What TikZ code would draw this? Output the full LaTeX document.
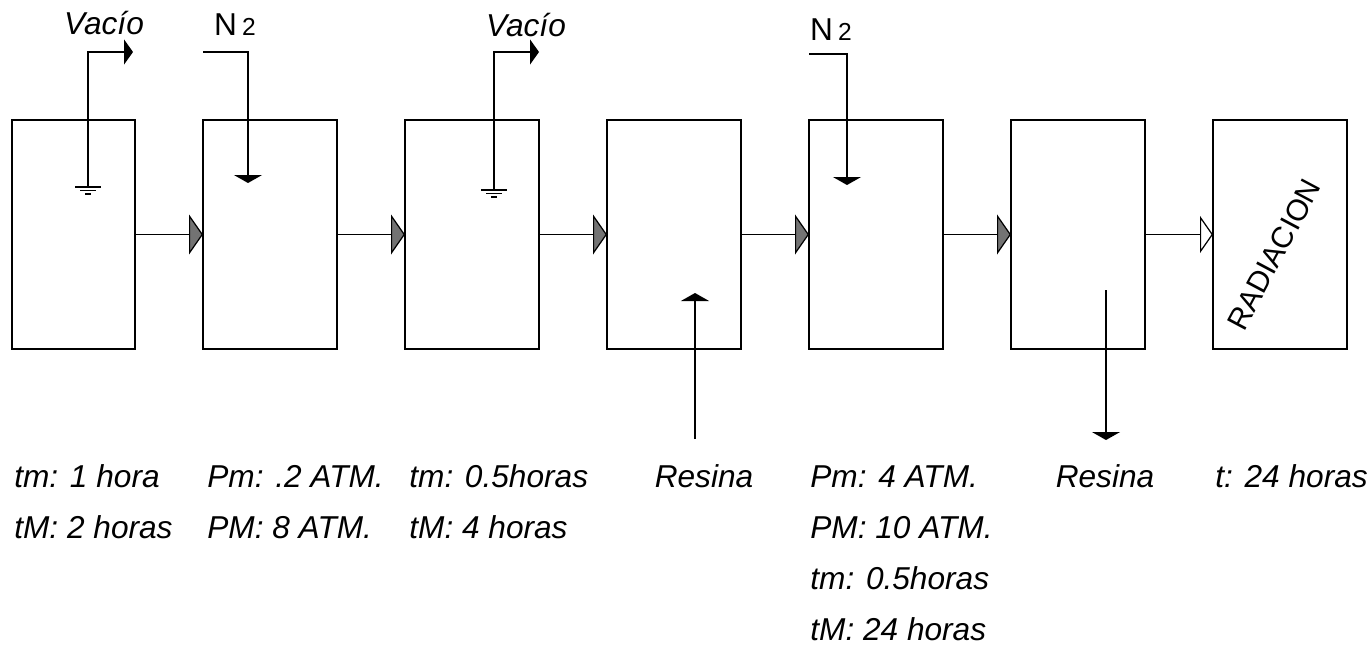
\documentclass[tikz,border=0pt]{standalone}
\usepackage{fontspec}
\setmainfont{Liberation Sans}
\usetikzlibrary{arrows.meta,positioning,calc}

\begin{document}
\begin{tikzpicture}[
    caja/.style={draw,line width=1.2pt,inner sep=0pt,outer sep=0pt,minimum width=2.68cm,
      minimum height=4.58cm},
    paso/.style={-{Triangle[length=2.8mm,width=8mm,fill=black!55]},line width=.7pt},
    salida/.style={-{Triangle[open,length=2.6mm,width=7.4mm]},line width=.7pt},
    gas/.style={-{Triangle[length=1.8mm,width=5mm]},line width=.8pt},
    carga/.style={-{Triangle[length=1.6mm,width=5.6mm]},line width=.8pt},
    dato/.style={font=\fontsize{18}{22}\selectfont\itshape,inner sep=0pt,anchor=base west},
    rotulo/.style={font=\fontsize{18}{22}\selectfont,inner sep=0pt},
    tierra/.pic={\draw[line width=.6pt] (-.26,0)--(.26,0) (-.16,-.07)--(.16,-.07)
      (-.06,-.14)--(.06,-.14);}
  ]
  \useasboundingbox (0,0) rectangle (27.4,-12.96);
  % etapas
  \node[caja,minimum width=2.46cm] (b1) at (1.47,-4.69) {};
  \node[caja,right=1.36cm of b1] (b2) {};
  \node[caja,right=1.36cm of b2] (b3) {};
  \node[caja,right=1.36cm of b3] (b4) {};
  \node[caja,right=1.36cm of b4] (b5) {};
  \node[caja,right=1.36cm of b5] (b6) {};
  \node[caja,right=1.36cm of b6] (b7) {};
  \node[rotate=62,font=\fontsize{17}{20}\selectfont] (rad) at ([xshift=-.12cm,yshift=-.4cm]b7.center) {RADIACION};
  \foreach \a/\b in {b1/b2,b2/b3,b3/b4,b4/b5,b5/b6}\draw[paso](\a)--(\b);
  \draw[salida] (b6)--(b7);

  % vacio
  \coordinate (g1) at ([xshift=.29cm,yshift=-1.34cm]b1.north);
  \coordinate (v1) at ([xshift=1.19cm,yshift=1.36cm]b1.north);
  \draw[gas] (g1) |- (v1);
  \pic at (g1) {tierra};
  \node[rotulo,font=\fontsize{18}{22}\selectfont\itshape] (vac1) at ([xshift=-.58cm,yshift=.58cm]v1) {Vacío};
  \coordinate (g3) at ([xshift=.44cm,yshift=-1.40cm]b3.north);
  \coordinate (v3) at ([xshift=1.34cm,yshift=1.36cm]b3.north);
  \draw[gas] (g3) |- (v3);
  \pic at (g3) {tierra};
  \node[rotulo,font=\fontsize{18}{22}\selectfont\itshape] (vac3) at ([xshift=-.26cm,yshift=.54cm]v3) {Vacío};

  % nitrogeno
  \coordinate (n2) at ([yshift=1.36cm]b2.north west);
  \coordinate (t2) at ([xshift=-.44cm,yshift=-1.26cm]b2.north);
  \draw[carga] (n2) -| (t2);
  \node[rotulo] (gn2) at ([xshift=.64cm,yshift=.54cm]n2) {N\,{\fontsize{14}{16}\selectfont 2}};
  \coordinate (n5) at ([yshift=1.32cm]b5.north west);
  \coordinate (t5) at ([xshift=-.58cm,yshift=-1.30cm]b5.north);
  \draw[carga] (n5) -| (t5);
  \node[rotulo] (gn5) at ([xshift=.44cm,yshift=.48cm]n5) {N\,{\fontsize{14}{16}\selectfont 2}};

  % resina
  \coordinate (r4) at ([xshift=.42cm,yshift=-1.80cm]b4.south);
  \coordinate (t4) at ([xshift=.42cm,yshift=1.12cm]b4.south);
  \draw[carga] (r4) -- (t4);
  \coordinate (r6) at ([xshift=.56cm,yshift=1.18cm]b6.south);
  \coordinate (t6) at ([xshift=.56cm,yshift=-1.82cm]b6.south);
  \draw[carga] (r6) -- (t6);

  % condiciones
  \node[dato] (d1a) at ([xshift=.04cm,yshift=-2.76cm]b1.south west) {tm: 1 hora};
  \node[dato] (d1b) at ([xshift=.04cm,yshift=-3.78cm]b1.south west) {tM: 2 horas};
  \node[dato] (d2a) at ([xshift=.08cm,yshift=-2.76cm]b2.south west) {Pm: .2 ATM.};
  \node[dato] (d2b) at ([xshift=.08cm,yshift=-3.78cm]b2.south west) {PM: 8 ATM.};
  \node[dato] (d3a) at ([xshift=.08cm,yshift=-2.76cm]b3.south west) {tm: 0.5horas};
  \node[dato] (d3b) at ([xshift=.08cm,yshift=-3.78cm]b3.south west) {tM: 4 horas};
  \node[dato,anchor=base] (d4) at ([xshift=.6cm,yshift=-2.76cm]b4.south) {Resina};
  \node[dato] (d5a) at ([xshift=.02cm,yshift=-2.76cm]b5.south west) {Pm: 4 ATM.};
  \node[dato] (d5b) at ([xshift=.02cm,yshift=-3.78cm]b5.south west) {PM: 10 ATM.};
  \node[dato] (d5c) at ([xshift=.02cm,yshift=-4.80cm]b5.south west) {tm: 0.5horas};
  \node[dato] (d5d) at ([xshift=.02cm,yshift=-5.82cm]b5.south west) {tM: 24 horas};
  \node[dato,anchor=base] (d6) at ([xshift=.54cm,yshift=-2.76cm]b6.south) {Resina};
  \node[dato] (d7) at ([xshift=.04cm,yshift=-2.76cm]b7.south west) {t: 24 horas};
\end{tikzpicture}
\end{document}
